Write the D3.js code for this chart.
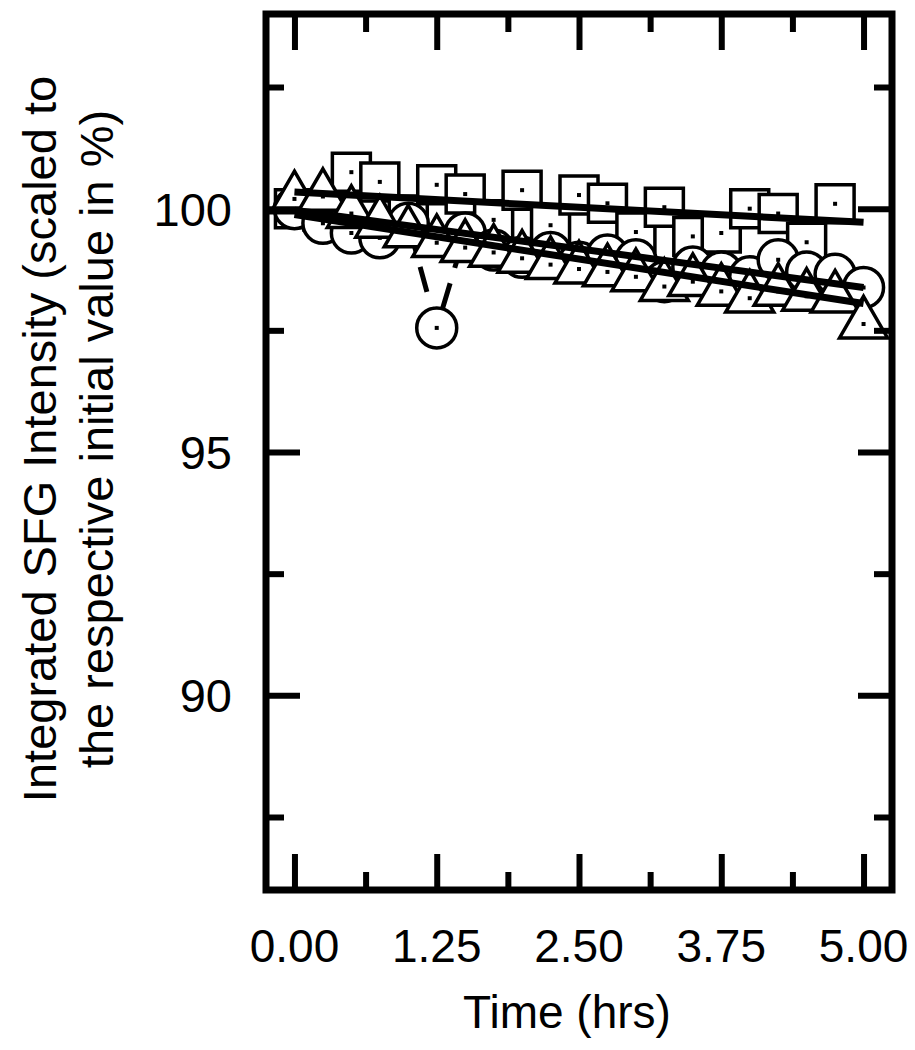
<!DOCTYPE html>
<html lang="en">
  <head>
    <meta charset="UTF-8" />
    <title>Integrated SFG Intensity vs Time</title>
    <style>
      body { margin: 0; background: #fff; }
      text { font-family: "Liberation Sans", Arial, sans-serif; fill: #000; }
    </style>
  </head>
  <body>
    <svg id="svg" width="915" height="1050"></svg>
    <script src="https://cdn.jsdelivr.net/npm/d3@7"></script>
    <script>
      // data
      const timeHrs = [0, 0.25, 0.5, 0.75, 1.0, 1.25, 1.5, 1.75, 2.0, 2.25, 2.5,
                       2.75, 3.0, 3.25, 3.5, 3.75, 4.0, 4.25, 4.5, 4.75, 5.0];
      const squareVals = [100.0, 99.95, 100.75, 100.55, 99.87, 100.49, 100.3, 99.77, 100.38, 99.66, 100.28,
                          100.11, 99.52, 100.03, 99.43, 99.5, 100.0, 99.9, 99.31, 100.1];
      const circleVals = [100.0, 99.7, 99.5, 99.4, 99.7, 97.55, 99.5, 99.15, 99.0, 99.1, 98.9,
                          99.05, 98.95, 98.5, 98.8, 98.7, 98.6, 98.95, 98.7, 98.65, 98.38];
      const triangleVals = [100.2, 100.25, 99.9, 99.7, 99.5, 99.3, 99.2, 99.1, 98.98, 98.85, 98.76,
                            98.7, 98.6, 98.4, 98.5, 98.3, 98.16, 98.3, 98.2, 98.16, 97.63];
      // fitted lines, [start, end] at t = 0 and t = 5
      const fitTimes = [0, 5];
      const squareFit = [100.34, 99.72];
      const circleFit = [99.97, 98.38];
      const triangleFit = [99.88, 98.05];

      const xMajor = [0, 1.25, 2.5, 3.75, 5.0];
      const xMinor = [0.625, 1.875, 3.125, 4.375];
      const yMajor = [90, 95, 100];
      const yMinor = [87.5, 92.5, 97.5, 102.5];

      const svg = d3.select("#svg");

      const plotLeft = 266, plotRight = 892, plotTop = 14, plotBottom = 890;
      const x = d3.scaleLinear().domain([-0.25, 5.25]).range([plotLeft, plotRight]);
      const y = d3.scaleLinear().domain([86, 104]).range([plotBottom, plotTop]);

      const series = [
        { vals: squareVals, sym: d3.symbolSquare, size: 1444 },
        { vals: circleVals, sym: d3.symbolCircle, size: 1257 },
        { vals: triangleVals, sym: d3.symbolTriangle, size: 1000 },
      ];
      const fits = [squareFit, circleFit, triangleFit];

      // dashed lines joining the points
      const line = d3.line().x((d) => x(d[0])).y((d) => y(d[1]));
      series.forEach((s) => {
        svg.append("path")
          .datum(s.vals.map((v, i) => [timeHrs[i], v]))
          .attr("d", line)
          .attr("fill", "none")
          .attr("stroke", "#000")
          .attr("stroke-width", 5)
          .attr("stroke-dasharray", "26,16");
      });

      // markers
      series.forEach((s) => {
        const g = svg.append("g");
        g.selectAll("path")
          .data(s.vals)
          .enter()
          .append("path")
          .attr("transform", (d, i) => `translate(${x(timeHrs[i])},${y(d)})`)
          .attr("d", d3.symbol(s.sym, s.size))
          .attr("fill", "#fff")
          .attr("stroke", "#000")
          .attr("stroke-width", 3.5);
        g.selectAll("rect")
          .data(s.vals)
          .enter()
          .append("rect")
          .attr("x", (d, i) => x(timeHrs[i]) - 2)
          .attr("y", (d) => y(d) - 2)
          .attr("width", 4)
          .attr("height", 4)
          .attr("fill", "#000");
      });

      // fitted lines
      fits.forEach((f) => {
        svg.append("path")
          .datum(f.map((v, i) => [fitTimes[i], v]))
          .attr("d", line)
          .attr("fill", "none")
          .attr("stroke", "#000")
          .attr("stroke-width", 7);
      });

      // ticks on all four sides, pointing in
      function ticks(axis, pos, vals, len) {
        const g = svg.append("g")
          .attr("transform", pos)
          .call(axis.tickValues(vals).tickSize(-len).tickFormat(""));
        g.select(".domain").remove();
        g.selectAll("line").attr("stroke", "#000").attr("stroke-width", 6);
      }
      ticks(d3.axisBottom(x), `translate(0,${plotBottom})`, xMajor, 36);
      ticks(d3.axisBottom(x), `translate(0,${plotBottom})`, xMinor, 18);
      ticks(d3.axisTop(x), `translate(0,${plotTop})`, xMajor, 36);
      ticks(d3.axisTop(x), `translate(0,${plotTop})`, xMinor, 18);
      ticks(d3.axisLeft(y), `translate(${plotLeft},0)`, yMajor, 34);
      ticks(d3.axisLeft(y), `translate(${plotLeft},0)`, yMinor, 18);
      ticks(d3.axisRight(y), `translate(${plotRight},0)`, yMajor, 34);
      ticks(d3.axisRight(y), `translate(${plotRight},0)`, yMinor, 18);

      // frame
      svg.append("rect")
        .attr("x", plotLeft).attr("y", plotTop)
        .attr("width", plotRight - plotLeft).attr("height", plotBottom - plotTop)
        .attr("fill", "none")
        .attr("stroke", "#000")
        .attr("stroke-width", 7);

      // tick labels
      svg.append("g").selectAll("text")
        .data(xMajor).enter().append("text")
        .attr("x", (d) => x(d))
        .attr("y", 962)
        .attr("text-anchor", "middle")
        .attr("font-size", 46)
        .text(d3.format(".2f"));
      svg.append("g").selectAll("text")
        .data(yMajor).enter().append("text")
        .attr("x", 232)
        .attr("y", (d) => y(d))
        .attr("dy", "0.36em")
        .attr("text-anchor", "end")
        .attr("font-size", 47)
        .text((d) => d);

      // axis titles
      svg.append("text")
        .attr("x", 567).attr("y", 1028)
        .attr("text-anchor", "middle")
        .attr("font-size", 46)
        .text("Time (hrs)");
      const yTitle = svg.append("text")
        .attr("transform", "translate(0,439) rotate(-90)")
        .attr("text-anchor", "middle")
        .attr("font-size", 47);
      yTitle.append("tspan").attr("x", 0).attr("y", 56)
        .text("Integrated SFG Intensity (scaled to");
      yTitle.append("tspan").attr("x", 0).attr("y", 113)
        .text("the respective initial value in %)");
    </script>
  </body>
</html>
